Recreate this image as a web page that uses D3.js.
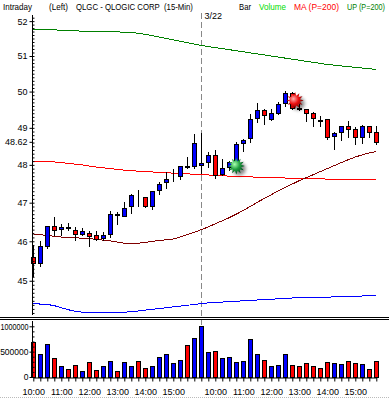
<html>
<head>
<meta charset="utf-8">
<title>QLGC intraday</title>
<style>
  body { margin: 0; background: #fff; }
  svg text { font-family: "Liberation Sans", Arial, sans-serif; }
</style>
<script src="https://d3js.org/d3.v7.min.js"></script>
</head>
<body>
<svg id="chart"></svg>
<script>
// bar times, two sessions (3/21 from 10:00, 3/22 full day)
let times = [
  '10:00','10:15','10:30','10:45','11:00','11:15','11:30','11:45','12:00','12:15','12:30','12:45',
  '13:00','13:15','13:30','13:45','14:00','14:15','14:30','14:45','15:00','15:15','15:30','15:45',
  '09:30','09:45','10:00','10:15','10:30','10:45','11:00','11:15','11:30','11:45','12:00','12:15',
  '12:30','12:45','13:00','13:15','13:30','13:45','14:00','14:15','14:30','14:45','15:00','15:15',
  '15:30','15:45'
];
let openP  = [45.61,45.45,45.88,46.40,46.31,46.36,46.29,46.19,46.22,46.17,46.08,46.19,46.70,46.65,46.92,47.20,47.15,46.90,47.32,47.54,47.65,47.71,47.96,47.98,
              48.00,48.07,48.27,47.75,47.93,48.06,48.59,48.72,49.27,49.49,49.24,49.41,49.68,49.96,49.54,49.51,49.40,49.22,49.25,48.77,48.90,49.05,48.98,48.75,49.06,48.89];
let highP  = [45.94,46.04,46.42,46.64,46.47,46.50,46.40,46.36,46.29,46.29,46.27,46.80,46.79,47.05,47.25,47.37,47.17,47.32,47.58,47.84,47.92,47.98,48.24,48.86,
              48.90,48.37,48.42,48.18,48.14,48.63,48.72,49.40,49.71,49.55,49.55,49.75,50.03,50.02,49.72,49.54,49.47,49.36,49.25,48.92,49.06,49.22,49.04,49.11,49.06,49.07];
let lowP   = [45.13,45.36,45.84,46.15,46.15,46.28,46.04,46.15,45.87,46.04,46.04,46.12,46.45,46.64,46.73,46.90,46.89,46.83,47.22,47.39,47.58,47.62,47.92,47.92,
              47.78,47.94,47.66,47.73,47.87,47.96,48.37,48.61,49.17,49.10,49.22,49.38,49.61,49.53,49.50,49.19,49.06,49.06,48.70,48.42,48.66,48.74,48.56,48.59,48.74,48.57];
let closeP = [45.45,45.87,46.40,46.28,46.38,46.35,46.19,46.26,46.14,46.07,46.17,46.71,46.68,46.86,47.21,47.19,46.90,47.31,47.50,47.63,47.66,47.96,47.95,48.60,
              48.04,48.27,47.73,47.92,48.09,48.57,48.67,49.24,49.49,49.35,49.40,49.65,49.96,49.55,49.53,49.42,49.27,49.20,48.74,48.86,49.06,48.98,48.75,49.06,48.89,48.62];
let volume = [700000,447000,645000,382000,210000,164000,243000,125000,303000,145000,210000,322000,125000,303000,210000,322000,184000,210000,401000,447000,283000,342000,638000,776000,
              1000000,500000,520000,382000,401000,303000,322000,757000,447000,342000,210000,243000,447000,243000,210000,283000,210000,184000,303000,283000,263000,322000,283000,263000,164000,322000];
// UP (P=200) band, MA (P=200), slow average and lower band
let upBand = [51.77,51.77,51.77,51.76,51.72,51.72,51.72,51.71,51.71,51.71,51.70,51.70,51.69,51.68,51.67,51.65,51.62,51.58,51.54,51.50,51.46,51.42,51.38,51.34,
              51.30,51.27,51.24,51.21,51.18,51.15,51.12,51.09,51.06,51.03,51.00,50.97,50.94,50.91,50.88,50.85,50.82,50.79,50.76,50.74,50.72,50.70,50.68,50.66,50.64,50.62];
let ma200  = [48.09,48.09,48.08,48.08,48.06,48.04,48.02,48.00,47.97,47.94,47.92,47.90,47.88,47.86,47.85,47.83,47.82,47.81,47.80,47.79,47.78,47.77,47.76,47.75,
              47.74,47.73,47.72,47.71,47.70,47.69,47.68,47.68,47.67,47.67,47.66,47.66,47.65,47.65,47.64,47.64,47.63,47.63,47.62,47.62,47.61,47.61,47.60,47.60,47.60,47.60];
let slowMa = [46.19,46.17,46.15,46.13,46.11,46.10,46.09,46.08,46.07,46.05,46.03,46.01,45.98,45.95,45.94,45.95,45.97,46.00,46.02,46.04,46.06,46.11,46.17,46.23,
              46.30,46.37,46.45,46.53,46.61,46.70,46.80,46.90,47.01,47.11,47.21,47.31,47.40,47.49,47.58,47.66,47.74,47.82,47.90,47.98,48.06,48.14,48.21,48.27,48.32,48.36];
let lowBand = [44.43,44.42,44.41,44.38,44.33,44.28,44.24,44.22,44.21,44.21,44.21,44.21,44.22,44.22,44.23,44.25,44.27,44.29,44.31,44.33,44.35,44.37,44.39,44.41,
              44.43,44.45,44.46,44.47,44.48,44.49,44.50,44.51,44.52,44.53,44.54,44.55,44.56,44.57,44.57,44.58,44.58,44.59,44.59,44.60,44.60,44.61,44.61,44.62,44.62,44.62];
let priceTicks = [45, 46, 47, 48, 49, 50, 51, 52];
let lastPrice = 48.62;
let volumeTicks = [0, 500000, 1000000];
let dayBreak = 24;
let dayLabel = '3/22';
let buySignals = [{ i: 29, price: 47.97 }];
let sellSignals = [{ i: 37.4, price: 49.75 }];

let width = 389, height = 399;
let svg = d3.select('#chart').attr('width', width).attr('height', height);
let defs = svg.append('defs');

let x = d3.scaleLinear().domain([0, times.length - 1]).range([33.3, 376.3]);
let y = d3.scaleLog().domain([44.15, 52.12]).range([315, 17]);
let vy = d3.scaleLinear().domain([0, 1000000]).range([377, 326.3]);
let px = i => Math.round(x(i)) + 0.5;

// header: each label squeezed horizontally to the width it takes in the original
let header = [
  { t: 'Intraday', x: 3, w: 29, c: '#000' },
  { t: '(Left)', x: 49, w: 19, c: '#000' },
  { t: 'QLGC - QLOGIC CORP  (15-Min)', x: 76, w: 117, c: '#000' },
  { t: 'Bar', x: 239, w: 12, c: '#000' },
  { t: 'Volume', x: 259, w: 27, c: '#00dd00' },
  { t: 'MA (P=200)', x: 294, w: 45, c: '#ff0000' },
  { t: 'UP (P=200)', x: 347, w: 38, c: '#008000' }
];
svg.append('g').selectAll('text').data(header).join('text')
  .attr('font-size', 9)
  .style('white-space', 'pre')
  .attr('fill', d => d.c)
  .text(d => d.t)
  .attr('transform', function (d) {
    let len = this.getComputedTextLength() || d.w;
    return `translate(${d.x},10) scale(${d.w / len},1)`;
  });

// day separator
svg.append('line')
  .attr('x1', px(dayBreak)).attr('x2', px(dayBreak))
  .attr('y1', 13).attr('y2', 377)
  .attr('stroke', '#888').attr('stroke-dasharray', '6,3');
svg.append('text').attr('x', px(dayBreak) + 3).attr('y', 18.5)
  .attr('font-size', 9).text(dayLabel);

// indicator lines
let line = vals => d3.line().x((d, i) => x(i)).y(d => y(d))(vals);
let lines = [
  { v: upBand, c: '#008000' },
  { v: ma200, c: '#ff0000' },
  { v: slowMa, c: '#800000' },
  { v: lowBand, c: '#0000ff' }
];
svg.append('g').selectAll('path').data(lines).join('path')
  .attr('d', d => line(d.v))
  .attr('fill', 'none').attr('stroke', d => d.c).attr('stroke-width', 1)
  .attr('shape-rendering', 'crispEdges');

// candles
let bars = times.map((t, i) => ({ i, o: openP[i], h: highP[i], l: lowP[i], c: closeP[i], v: volume[i] }));
let upColor = '#0000ff', downColor = '#ff0000';
let candles = svg.append('g').attr('shape-rendering', 'crispEdges');
candles.selectAll('line').data(bars).join('line')
  .attr('x1', d => px(d.i)).attr('x2', d => px(d.i))
  .attr('y1', d => Math.round(y(d.h)) + 0.5).attr('y2', d => Math.round(y(d.l)) + 0.5)
  .attr('stroke', '#000');
candles.selectAll('rect').data(bars).join('rect')
  .attr('x', d => px(d.i) - 2)
  .attr('width', 4)
  .attr('y', d => Math.round(y(Math.max(d.o, d.c))) + 0.5)
  .attr('height', d => Math.round(y(Math.min(d.o, d.c))) - Math.round(y(Math.max(d.o, d.c))))
  .attr('fill', d => d.c < d.o ? downColor : upColor)
  .attr('stroke', '#000');

// signal stars
function starPath(r1, r2, n) {
  let pts = d3.range(n * 2).map(k => {
    let a = Math.PI * k / n, r = k % 2 ? r2 : r1;
    return [Math.cos(a) * r, Math.sin(a) * r];
  });
  return 'M' + pts.join('L') + 'Z';
}
defs.append('filter').attr('id', 'blur').append('feGaussianBlur').attr('stdDeviation', 1.8);
function gradient(id, c0, c1, c2) {
  let g = defs.append('radialGradient').attr('id', id).attr('cx', '40%').attr('cy', '40%').attr('r', '60%');
  g.append('stop').attr('offset', '0%').attr('stop-color', c0);
  g.append('stop').attr('offset', '50%').attr('stop-color', c1);
  g.append('stop').attr('offset', '100%').attr('stop-color', c2);
}
gradient('gGreen', '#a8ffb0', '#20a040', '#004a20');
gradient('gRed', '#ffb0b0', '#ee1010', '#700000');
function drawStars(data, fillId) {
  let g = svg.append('g').selectAll('g').data(data).join('g')
    .attr('transform', d => `translate(${x(d.i)},${y(d.price)})`);
  g.append('path').attr('d', starPath(8.5, 5, 12)).attr('fill', '#000').attr('opacity', 0.45)
    .attr('transform', 'translate(3,3)').attr('filter', 'url(#blur)');
  g.append('path').attr('d', starPath(8.5, 5, 12)).attr('fill', `url(#${fillId})`);
}
drawStars(buySignals, 'gGreen');
drawStars(sellSignals, 'gRed');

// price axis
svg.append('line').attr('x1', 32.5).attr('x2', 32.5).attr('y1', 15).attr('y2', 315).attr('stroke', '#000');
let minor = svg.append('g').attr('transform', 'translate(32.5,0)')
  .call(d3.axisRight(y).tickValues(d3.range(442, 522).map(v => v / 10)).tickSize(2).tickFormat(''));
minor.select('.domain').remove();
let yAxis = svg.append('g').attr('transform', 'translate(32.5,0)')
  .call(d3.axisLeft(y).tickValues(priceTicks.concat([lastPrice])).tickSize(3).tickPadding(2)
    .tickFormat(d => d === lastPrice ? d.toFixed(2) : d));
yAxis.select('.domain').remove();
yAxis.selectAll('text').attr('font-size', 9).attr('font-family', null);

// panel separator
svg.append('g').selectAll('line').data([317.5, 319.5]).join('line')
  .attr('x1', 0).attr('x2', width).attr('y1', d => d).attr('y2', d => d).attr('stroke', '#000');

// volume
svg.append('g').attr('shape-rendering', 'crispEdges')
  .selectAll('rect').data(bars).join('rect')
  .attr('x', d => px(d.i) - 2).attr('width', 4)
  .attr('y', d => Math.round(vy(d.v)) + 0.5)
  .attr('height', d => vy(0) - Math.round(vy(d.v)))
  .attr('fill', d => d.c < d.o ? downColor : upColor)
  .attr('stroke', '#000');

svg.append('line').attr('x1', 32.5).attr('x2', 32.5).attr('y1', 321).attr('y2', 377).attr('stroke', '#000');
let vMinor = svg.append('g').attr('transform', 'translate(32.5,0)')
  .call(d3.axisRight(vy).tickValues(d3.range(0, 11).map(v => v * 100000)).tickSize(2).tickFormat(''));
vMinor.select('.domain').remove();
let vAxis = svg.append('g').attr('transform', 'translate(32.5,0)')
  .call(d3.axisLeft(vy).tickValues(volumeTicks).tickSize(3).tickPadding(1).tickFormat(d3.format('d')));
vAxis.select('.domain').remove();
vAxis.selectAll('text').attr('font-size', 8.5).attr('font-family', null)
  .attr('textLength', d => d >= 1000000 ? 28 : null)
  .attr('lengthAdjust', 'spacingAndGlyphs');

let xAxis = svg.append('g').attr('transform', `translate(0,${vy(0) + 0.5})`)
  .call(d3.axisBottom(x).tickValues(d3.range(times.length)).tickSize(4).tickSizeOuter(0).tickPadding(7)
    .tickFormat(i => (times[i].endsWith(':00') && times[i] !== '09:30') ? times[i] : ''));
xAxis.selectAll('text').attr('font-size', 9).attr('font-family', null);

// bottom strip
svg.append('line').attr('x1', 0).attr('x2', width).attr('y1', 397.5).attr('y2', 397.5)
  .attr('stroke', '#bbb').attr('stroke-dasharray', '1,1');
</script>
</body>
</html>
